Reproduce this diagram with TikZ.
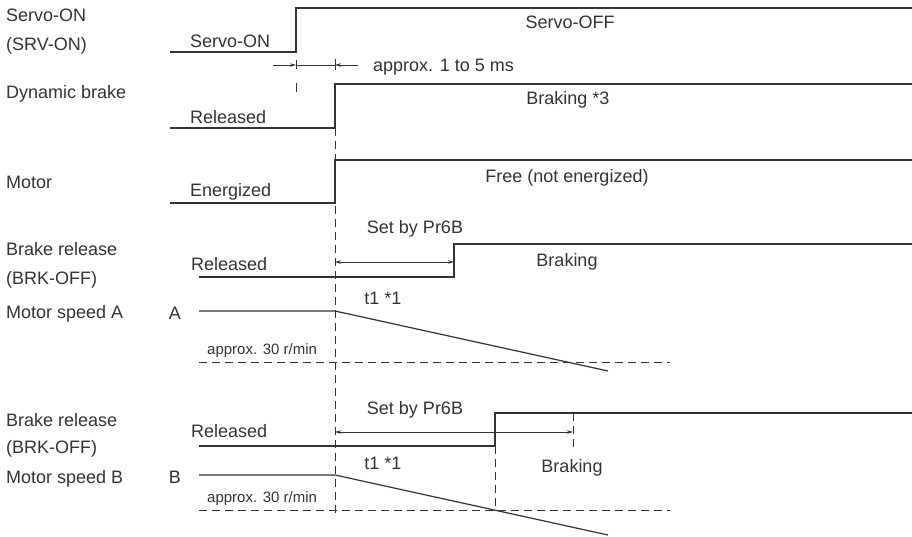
\documentclass[tikz,border=0pt]{standalone}
\usepackage{fontspec}
\setmainfont{Liberation Sans}
\usetikzlibrary{arrows.meta}
\definecolor{ink}{RGB}{51,51,51}
\begin{document}
\begin{tikzpicture}[x=1pt,y=-1pt,
  sig/.style={draw=ink, line width=1.2pt},
  guide/.style={draw=ink, line width=1pt, dash pattern=on 8pt off 5pt},
  dim/.style={draw=ink, line width=0.8pt},
  tipr/.style={-{Stealth[length=6pt,width=3.5pt]}},
  tipb/.style={{Stealth[length=6pt,width=3.5pt]}-{Stealth[length=6pt,width=3.5pt]}},
  lbl/.style={anchor=base west, inner sep=0pt, text=ink, font=\fontsize{18}{21}\selectfont},
  ctr/.style={anchor=base, inner sep=0pt, text=ink, font=\fontsize{18}{21}\selectfont},
  small/.style={anchor=base west, inner sep=0pt, text=ink, font=\fontsize{15}{18}\selectfont}]
\useasboundingbox (0,0) rectangle (912,536);

% ---- coordinates of the waveforms
\coordinate (so0) at (170,52);  \coordinate (so1) at (296,52);
\coordinate (so2) at (296,8);   \coordinate (so3) at (912,8);
\coordinate (db0) at (170,128); \coordinate (db1) at (335,128);
\coordinate (db2) at (335,84);  \coordinate (db3) at (912,84);
\coordinate (mo0) at (170,203); \coordinate (mo1) at (335,203);
\coordinate (mo2) at (335,160); \coordinate (mo3) at (912,160);
\coordinate (ba0) at (199,277); \coordinate (ba1) at (454,277);
\coordinate (ba2) at (454,244); \coordinate (ba3) at (912,244);
\coordinate (sa0) at (199,311); \coordinate (sa1) at (335,311);
\coordinate (sa2) at (608,371);
\coordinate (ta0) at (199,362); \coordinate (ta1) at (670,362);
\coordinate (bb0) at (199,446); \coordinate (bb1) at (495,446);
\coordinate (bb2) at (495,413); \coordinate (bb3) at (912,413);
\coordinate (sb0) at (199,475); \coordinate (sb1) at (335,475);
\coordinate (sb2) at (608,535);
\coordinate (tb0) at (199,510); \coordinate (tb1) at (670,510);
% guide coordinates
\coordinate (g0) at (335,128);  \coordinate (g1) at (335,513);
\coordinate (gs0) at (296,60);  \coordinate (gs1) at (296,92);
\coordinate (gt0) at (335,59);  \coordinate (gt1) at (335,70);
\coordinate (gb1) at (495,510);
\coordinate (gc0) at (573,413); \coordinate (gc1) at (573,452);
% dimension coordinates
\coordinate (m0) at (273,65); \coordinate (m1) at (296,65);
\coordinate (m2) at (335,65); \coordinate (m3) at (358,65);
\coordinate (pa0) at (335,262); \coordinate (pa1) at (454,262);
\coordinate (pb0) at (335,432); \coordinate (pb1) at (573,432);

% ---- guides
\draw[guide] (g0) -- (g1);
\draw[guide, dash pattern=on 9pt off 14pt] (gs0) -- (gs1);
\draw[dim] (gt0) -- (gt1);
\draw[guide] (bb1) -- (gb1);
\draw[guide] (gc0) -- (gc1);
\draw[guide] (ta0) -- (ta1);
\draw[guide] (tb0) -- (tb1);

% ---- waveforms
\draw[sig] (so0) -- (so1) -- (so2) -- (so3);
\draw[sig] (db0) -- (db1) -- (db2) -- (db3);
\draw[sig] (mo0) -- (mo1) -- (mo2) -- (mo3);
\draw[sig] (ba0) -- (ba1) -- (ba2) -- (ba3);
\draw[sig] (sa0) -- (sa1) -- (sa2);
\draw[sig] (bb0) -- (bb1) -- (bb2) -- (bb3);
\draw[sig] (sb0) -- (sb1) -- (sb2);

% ---- dimension arrows
\draw[dim, tipr] (m0) -- (m1);
\draw[dim] (m1) -- (m2);
\draw[dim, tipr] (m3) -- (m2);
\draw[dim, tipb] (pa0) -- (pa1);
\draw[dim, tipb] (pb0) -- (pb1);

% ---- left labels
\node[lbl] (l1) at (6,21.6) {Servo-ON};
\node[lbl] (l2) at (6,50.6) {(SRV-ON)};
\node[lbl] (l3) at (6,98.6) {Dynamic brake};
\node[lbl] (l4) at (6,188.6) {Motor};
\node[lbl] (l5) at (6,255.6) {Brake release};
\node[lbl] (l6) at (6,284.6) {(BRK-OFF)};
\node[lbl] (l7) at (6,318.6) {Motor speed A};
\node[lbl] (l8) at (6,426.6) {Brake release};
\node[lbl] (l9) at (6,453.6) {(BRK-OFF)};
\node[lbl] (l10) at (6,483.6) {Motor speed B};
\node[ctr] (la) at (175,319) {A};
\node[ctr] (lb) at (175,483.6) {B};

% ---- state labels
\node[lbl] (t1) at (190,47) {Servo-ON};
\node[ctr] (t2) at (570,28.6) {Servo-OFF};
\node[lbl] (t3) at (373,71.6) {approx. 1 to 5 ms};
\node[lbl] (t4) at (190,123) {Released};
\node[ctr] (t5) at (568,104.6) {Braking *3};
\node[lbl] (t6) at (190,196.6) {Energized};
\node[ctr] (t7) at (567,182.6) {Free (not energized)};
\node[ctr] (t8) at (415,233.6) {Set by Pr6B};
\node[lbl] (t9) at (191,270.6) {Released};
\node[ctr] (t10) at (567,266.6) {Braking};
\node[ctr] (t11) at (383,304.6) {t1 *1};
\node[small] (t12) at (207,354.4) {approx. 30 r/min};
\node[ctr] (t13) at (415,414.6) {Set by Pr6B};
\node[lbl] (t14) at (191,437.6) {Released};
\node[ctr] (t15) at (383,469.6) {t1 *1};
\node[ctr] (t16) at (572,472.6) {Braking};
\node[small] (t17) at (207,502) {approx. 30 r/min};
\end{tikzpicture}
\end{document}
